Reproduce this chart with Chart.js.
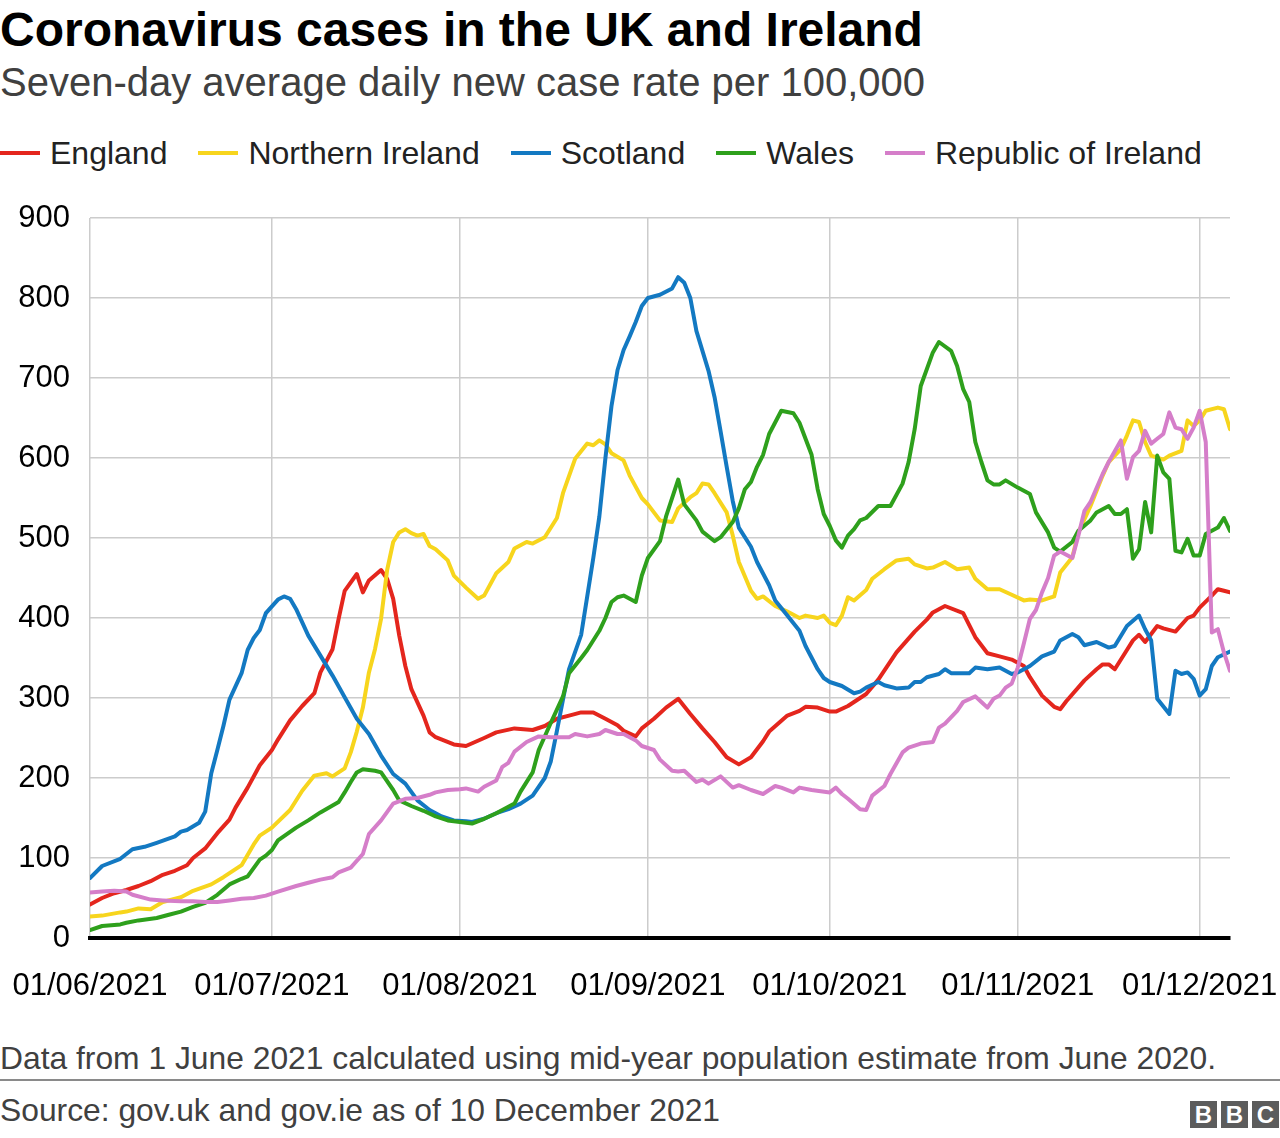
<!DOCTYPE html>
<html>
<head>
<meta charset="utf-8">
<script src="https://cdn.jsdelivr.net/npm/chart.js@4.4.1/dist/chart.umd.min.js"></script>
<style>
html,body{margin:0;padding:0;background:#fff;}
body{width:1280px;height:1138px;position:relative;overflow:hidden;font-family:"Liberation Sans",Arial,Helvetica,sans-serif;}
.t{position:absolute;left:0;white-space:nowrap;line-height:1;}
#title{top:6px;font-size:48px;font-weight:bold;color:#000;}
#sub{top:62px;font-size:40px;color:#404040;}
#legend{position:absolute;left:0;top:137px;height:32px;display:flex;align-items:center;}
.li{display:flex;align-items:center;margin-right:31px;font-size:32px;line-height:32px;color:#222;white-space:nowrap;}
.sw{width:40px;height:4px;margin-right:10px;}
#chartBox{position:absolute;left:0;top:190px;width:1280px;height:830px;}
#note{top:1043px;font-size:31.8px;color:#404040;}
#rule{position:absolute;left:0;top:1079px;width:1280px;height:2px;background:#8a8a8a;}
#src{top:1095px;font-size:31.8px;color:#404040;}
#bbc{position:absolute;left:1190px;top:1101px;display:flex;}
#bbc div{width:27px;height:27px;background:#5c5c5c;color:#fff;font-weight:bold;font-size:24px;line-height:27px;text-align:center;margin-right:4px;}
</style>
</head>
<body>
<div class="t" id="title">Coronavirus cases in the UK and Ireland</div>
<div class="t" id="sub">Seven-day average daily new case rate per 100,000</div>
<div id="legend"></div>
<div id="chartBox"><canvas id="c" width="1280" height="830"></canvas></div>
<div class="t" id="note">Data from 1 June 2021 calculated using mid-year population estimate from June 2020.</div>
<div id="rule"></div>
<div class="t" id="src">Source: gov.uk and gov.ie as of 10 December 2021</div>
<div id="bbc"><div>B</div><div>B</div><div>C</div></div>
<script>
// Day index 0 = 01/06/2021
const monthStartDays = [0, 30, 61, 92, 122, 153, 183];
const monthLabels = ['01/06/2021', '01/07/2021', '01/08/2021', '01/09/2021', '01/10/2021', '01/11/2021', '01/12/2021'];
const seriesNames = ['England', 'Northern Ireland', 'Scotland', 'Wales', 'Republic of Ireland'];
const seriesColors = ['#e4261d', '#f7d51d', '#1379c2', '#2ea01c', '#d57ec9'];

const englandDays = [0,2,4,6,8,10,12,14,16,17,19,21,23,24,26,28,30,31,33,35,37,38,40,41,42,44,45,46,48,49,50,51,52,53,55,56,57,60,62,65,67,70,73,75,77,79,81,83,85,87,88,90,91,93,95,97,99,101,103,105,107,109,111,112,115,117,118,120,122,123,125,128,130,133,136,138,139,141,144,146,148,150,152,154,155,157,159,160,161,164,166,167,168,169,171,172,173,174,176,177,179,181,182,183,185,186,187,188];
const englandRate = [42,50,56,60,65,71,79,84,91,100,112,131,148,163,188,216,235,248,272,290,306,332,361,399,434,455,432,447,460,449,424,378,340,311,278,257,251,242,240,250,257,262,260,265,274,278,282,282,274,266,259,252,262,274,288,299,280,262,245,226,217,226,246,258,278,284,289,288,283,283,290,305,323,357,383,398,407,415,406,376,356,352,348,340,326,303,289,286,296,322,336,342,342,336,360,372,379,370,390,387,383,400,403,413,428,436,434,432];

const niDays = [0,2,5,6,8,10,12,15,17,20,22,25,27,28,30,33,35,37,39,40,41,42,43,44,45,46,47,48,49,50,51,52,53,54,55,56,57,59,60,62,64,65,67,69,70,72,73,75,77,78,80,82,83,84,85,86,88,89,91,92,94,96,97,99,100,101,102,103,105,106,107,109,110,111,113,115,117,118,120,121,122,123,124,125,126,128,129,131,133,135,136,138,139,141,143,145,146,148,150,152,154,155,157,159,160,162,163,165,167,168,170,171,172,173,174,175,177,178,180,181,182,183,184,186,187,188];
const niRate = [27,28,32,33,37,36,45,51,59,67,76,91,117,128,138,160,184,203,206,202,207,212,232,258,288,332,361,399,460,495,507,511,506,503,505,490,486,472,453,438,424,428,456,470,487,495,493,501,525,556,599,618,616,622,617,606,597,578,550,542,522,520,537,551,556,568,567,556,532,503,470,434,424,427,415,408,400,403,400,403,394,391,403,426,422,435,449,461,472,474,467,462,463,470,461,463,449,436,436,429,422,423,422,427,457,476,507,540,578,595,611,628,647,645,620,603,598,603,609,647,640,647,659,663,661,636];

const scotlandDays = [0,2,5,7,9,11,14,15,16,18,19,20,21,22,23,25,26,27,28,29,31,32,33,34,36,38,40,42,44,46,48,50,52,54,56,58,60,62,63,65,67,69,71,73,75,76,77,78,79,81,82,83,84,85,86,87,88,89,90,91,92,94,96,97,98,99,100,102,103,104,105,106,107,109,110,112,113,115,117,118,120,121,122,124,126,127,128,130,131,133,135,136,137,138,140,141,142,145,146,148,150,152,153,155,157,159,160,162,163,164,166,168,169,171,173,174,175,176,178,179,180,181,182,183,184,185,186,188];
const scotlandRate = [75,90,99,111,114,119,127,133,135,144,158,206,235,265,298,331,360,375,385,406,423,427,424,411,378,353,328,301,274,255,228,205,193,172,160,152,147,146,145,149,156,161,168,178,200,221,259,298,336,379,427,475,527,600,665,710,735,752,770,790,800,804,812,826,819,800,759,709,676,633,589,546,513,489,470,441,422,403,384,365,336,325,320,315,306,308,313,320,316,312,313,320,320,326,330,336,331,331,338,336,338,330,332,340,352,358,372,380,376,366,370,363,365,390,403,386,372,299,280,334,330,332,324,303,311,340,351,358];

const walesDays = [0,2,5,6,8,11,13,15,17,19,21,23,25,26,28,29,30,31,34,36,38,41,42,43,44,45,47,48,50,51,53,55,57,59,61,63,65,67,70,71,73,74,76,78,79,81,82,84,85,86,87,88,90,91,92,94,95,97,98,100,101,103,104,106,107,108,109,110,111,112,114,116,117,119,120,121,122,123,124,125,126,127,128,130,132,134,135,136,137,139,140,142,143,144,145,146,147,148,149,150,151,153,155,156,158,159,160,162,163,165,166,168,169,170,171,172,173,174,175,176,177,178,179,180,181,182,183,184,186,187,188];
const walesRate = [10,15,17,19,22,25,29,33,39,44,54,67,74,77,98,103,110,122,138,147,157,170,182,195,207,211,209,207,185,172,165,159,152,147,145,143,149,156,168,183,207,235,269,302,331,350,360,384,400,420,426,428,420,453,475,496,527,573,542,522,508,496,501,520,537,561,570,589,604,630,659,656,644,604,561,530,515,497,488,503,511,522,525,540,540,568,595,636,690,732,745,734,715,686,670,620,595,572,567,567,572,563,555,532,507,488,483,495,509,522,532,540,530,530,536,474,486,545,507,603,582,574,484,482,499,478,478,505,513,525,509];

const roiDays = [0,2,4,6,7,10,12,15,17,19,21,23,25,27,29,31,34,36,38,40,41,43,45,46,48,50,52,54,56,57,59,61,62,64,65,67,68,69,70,72,74,76,79,80,82,84,85,87,88,90,91,93,94,96,97,98,100,101,102,104,106,107,109,111,113,114,116,117,119,122,123,124,125,127,128,129,131,132,134,135,137,139,140,141,143,144,146,147,148,149,150,151,152,153,154,155,156,157,158,159,160,162,163,164,165,167,168,170,171,172,173,174,175,176,177,178,179,180,181,182,183,184,185,186,187,188];
const roiRate = [57,58,59,58,54,48,47,46,46,45,45,47,49,50,53,58,65,69,73,76,82,88,105,130,147,168,174,175,179,182,185,186,187,183,189,197,214,219,233,245,252,251,251,255,252,255,260,255,255,247,240,235,223,209,208,209,195,198,193,202,188,191,185,180,190,188,182,188,185,182,188,180,174,161,160,178,190,205,232,238,243,245,263,268,284,295,302,295,288,299,303,313,318,338,368,399,410,432,450,478,483,475,503,534,545,580,595,622,574,601,609,634,618,624,630,657,638,636,624,638,659,620,382,386,357,334];

const seriesDays = [englandDays, niDays, scotlandDays, walesDays, roiDays];
const seriesRates = [englandRate, niRate, scotlandRate, walesRate, roiRate];

// HTML legend
const legend = document.getElementById('legend');
seriesNames.forEach((n, i) => {
  const item = document.createElement('div');
  item.className = 'li';
  const sw = document.createElement('div');
  sw.className = 'sw';
  sw.style.background = seriesColors[i];
  item.appendChild(sw);
  item.appendChild(document.createTextNode(n));
  legend.appendChild(item);
});

Chart.defaults.font.family = '"Liberation Sans", Arial, Helvetica, sans-serif';
const datasets = seriesNames.map((n, i) => ({
  label: n,
  data: seriesDays[i].map((d, j) => ({x: d, y: seriesRates[i][j]})),
  borderColor: seriesColors[i],
  backgroundColor: seriesColors[i],
  order: 4 - i
}));

new Chart(document.getElementById('c'), {
  type: 'line',
  data: {datasets},
  options: {
    responsive: false,
    animation: false,
    layout: {padding: {left: 0, right: 50, top: 28, bottom: 0}},
    plugins: {legend: {display: false}, tooltip: {enabled: false}},
    elements: {
      point: {radius: 0},
      line: {borderWidth: 4, tension: 0, borderJoinStyle: 'round', borderCapStyle: 'round'}
    },
    scales: {
      x: {
        type: 'linear', min: 0, max: 188,
        afterBuildTicks: s => { s.ticks = monthStartDays.map(v => ({value: v})); },
        afterFit: s => { s.height = 82; },
        ticks: {
          autoSkip: false, maxRotation: 0, padding: 0, color: '#000',
          font: {size: 31},
          callback: v => monthLabels[monthStartDays.indexOf(v)]
        },
        grid: {color: '#cccccc', lineWidth: 1.5, drawTicks: true, tickLength: 30, tickColor: 'rgba(0,0,0,0)'},
        border: {display: true, color: '#000', width: 4}
      },
      y: {
        min: 0, max: 900,
        afterFit: s => { s.width = 90; },
        ticks: {stepSize: 100, padding: 0, color: '#000', font: {size: 31}},
        grid: {color: '#cccccc', lineWidth: 1.5, drawTicks: true, tickLength: 20, tickColor: 'rgba(0,0,0,0)'},
        border: {display: false}
      }
    }
  }
});
</script>
</body>
</html>
